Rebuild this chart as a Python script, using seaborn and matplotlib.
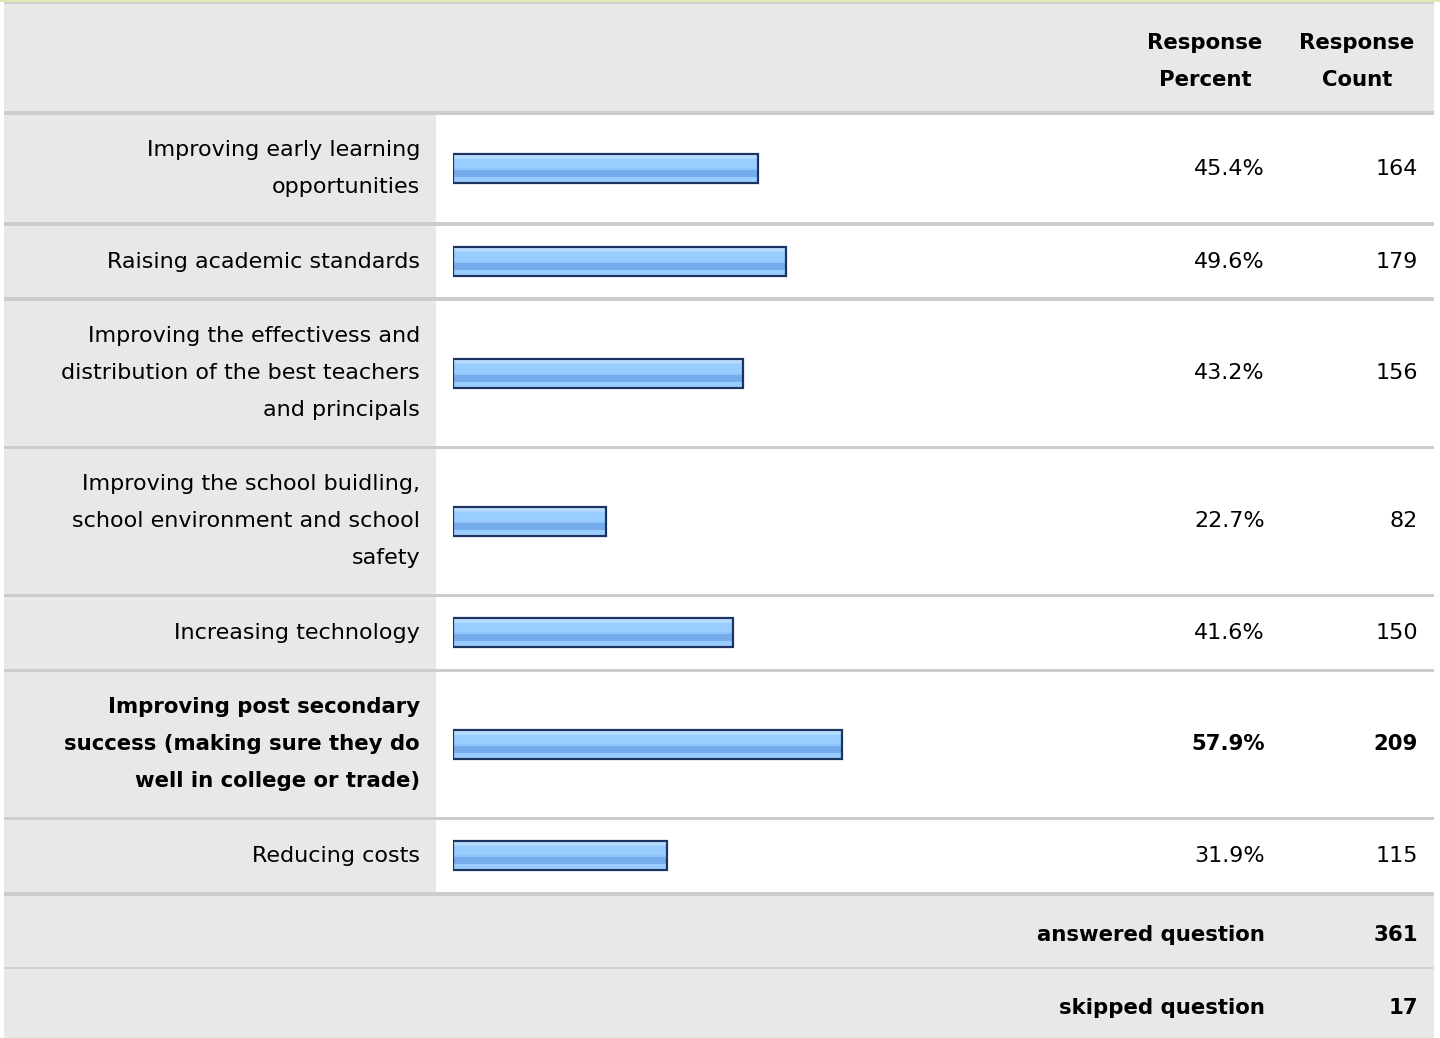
import numpy as np
import pandas as pd
import matplotlib
matplotlib.use("Agg")
import matplotlib.pyplot as plt
from matplotlib.patches import Rectangle
from matplotlib.colors import to_rgb
import seaborn as sns

# ---- survey results -------------------------------------------------------
labels = [
    "Improving early learning\nopportunities",
    "Raising academic standards",
    "Improving the effectivess and\ndistribution of the best teachers\nand principals",
    "Improving the school buidling,\nschool environment and school\nsafety",
    "Increasing technology",
    "Improving post secondary\nsuccess (making sure they do\nwell in college or trade)",
    "Reducing costs",
]
percents = [45.4, 49.6, 43.2, 22.7, 41.6, 57.9, 31.9]
counts = [164, 179, 156, 82, 150, 209, 115]
header_cols = ["Response\nPercent", "Response\nCount"]
footer_labels = ["answered question", "skipped question"]
footer_counts = [361, 17]

# ---- canvas ---------------------------------------------------------------
W, H = 1440, 1038
sns.set_theme(style="white")
plt.rcParams["font.family"] = ["DejaVu Sans"]
FS_REG = 16.0   # points
FS_BOLD = 15.3
CAP = 6.0       # px from a line's visual centre down to its baseline

fig = plt.figure(figsize=(W / 100, H / 100), dpi=100)
fig.patch.set_facecolor("white")


def fx(x):
    return x / W


def fy(y):
    return 1 - y / H


def rect(x0, y0, x1, y1, color, z=0):
    fig.add_artist(Rectangle((fx(x0), fy(y1)), fx(x1) - fx(x0), fy(y0) - fy(y1),
                             transform=fig.transFigure, facecolor=color,
                             edgecolor="none", zorder=z))


def text(x, y, s, ha="right", bold=False):
    fig.text(fx(x), fy(y + CAP), s, ha=ha, va="baseline",
             fontsize=FS_BOLD if bold else FS_REG,
             fontweight="bold" if bold else "normal", color="#000000", zorder=5)


GREY = "#e8e8e8"
SEP = "#cccccc"
LEFT, RIGHT = 4, 1434
LABEL_EDGE = 436
BAR_X0, BAR_SPAN = 453, 672  # 0..100 % of the bar scale
LINE_GAP = 37

# header band
rect(0, 0, W, 2.4, "#e0e7b4", 1)
rect(LEFT, 2.4, RIGHT, 3.6, "#d0d0d0", 1)
rect(LEFT, 3.6, RIGHT, 111, GREY, 0)
for cx, s in zip([1205, 1357], header_cols):
    for i, line in enumerate(s.split("\n")):
        text(cx, 43 + i * LINE_GAP, line, ha="center", bold=True)

# bar fill: horizontal glossy stripes, top to bottom
stripes = ["#cfe7ff", "#c4e2ff", "#b6dbff", "#aad5ff", "#99ccff", "#99ccff",
           "#99ccff", "#99ccff", "#99ccff", "#99ccff", "#99ccff", "#99ccff",
           "#90c4fb", "#74abeb", "#74abeb", "#74abeb", "#74abeb", "#74abeb",
           "#78aeed", "#99ccff", "#99ccff", "#99ccff", "#a6d3ff", "#b8dcff"]
grad = np.array([to_rgb(c) for c in stripes])[:, None, :]

# data rows
top = 111
sep_h = 3.8
max_pct = max(percents)
for lab, pct, cnt in zip(labels, percents, counts):
    n = lab.count("\n") + 1
    step = 36.5 * n + 38.5
    rect(LEFT, top, RIGHT, top + sep_h, SEP, 2)
    y0, y1 = top + sep_h, top + step
    rect(LEFT, y0, LABEL_EDGE, y1, GREY, 0)
    yc = (y0 + y1) / 2
    bold = pct == max_pct
    for i, line in enumerate(lab.split("\n")):
        text(420, yc + (i - (n - 1) / 2) * LINE_GAP, line, bold=bold)
    text(1265, yc, f"{pct:.1f}%", bold=bold)
    text(1418, yc, f"{cnt}", bold=bold)

    # one bar per row, drawn on an axes that spans 0-100 %
    row_h = y1 - y0
    ax = fig.add_axes([fx(BAR_X0), fy(y1), BAR_SPAN / W, row_h / H])
    df = pd.DataFrame({"option": [lab], "percent": [pct]})
    sns.barplot(data=df, x="percent", y="option", orient="h", ax=ax,
                color="#99ccff", width=29 / row_h, saturation=1,
                edgecolor="#1c3461", linewidth=1.6)
    ax.set_xlim(0, 100)
    ylim = ax.get_ylim()
    ax.set_axis_off()
    ax.patch.set_alpha(0)

    for p in ax.patches:
        bx, by = p.get_x(), p.get_y()
        bw, bh = p.get_width(), p.get_height()
        ax.imshow(grad, extent=[bx, bx + bw, by + bh, by], origin="upper",
                  aspect="auto", interpolation="nearest", zorder=2)
        p.set_facecolor("none")
        p.set_zorder(3)
    ax.set_xlim(0, 100)
    ax.set_ylim(ylim)
    top = y1

# footer
rect(LEFT, top, RIGHT, H, GREY, 0)
rect(LEFT, top, RIGHT, top + sep_h + 0.4, SEP, 2)
f0 = top + sep_h + 0.4
rect(LEFT, 967, RIGHT, 969, "#d2d2d2", 2)
for (a, b), lab, cnt in zip([(f0, 967), (969, H)], footer_labels, footer_counts):
    yc = (a + b) / 2 + 4
    text(1265, yc, lab, bold=True)
    text(1418, yc, f"{cnt}", bold=True)

fig.savefig("out.png", dpi=100, facecolor="white")
